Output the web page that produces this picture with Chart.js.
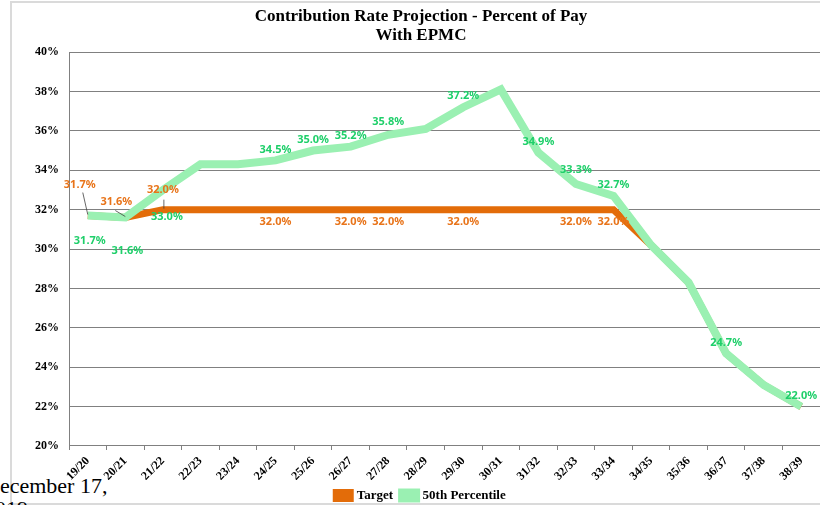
<!DOCTYPE html>
<html>
<head>
<meta charset="utf-8">
<script src="https://cdn.jsdelivr.net/npm/chart.js@4.4.1/dist/chart.umd.min.js"></script>
<style>
  html, body { margin: 0; padding: 0; overflow: hidden; background: #fff; }
  #frame { position: absolute; left: 10px; top: 1px; width: 900px; height: 500px;
           border-top: 2px solid #dadada; border-left: 2px solid #dadada; border-bottom: 2px solid #dadada; }
  #wrap { position: absolute; left: 0; top: 0; width: 842px; height: 512px; }
  #note { position: absolute; left: -16px; top: 474px; font: 22px "Liberation Serif", serif; line-height: 23px; color: #000; }
</style>
</head>
<body>
<div id="frame"></div>
<div id="note">December 17,<br>2019</div>
<div id="wrap"><canvas id="rateChart"></canvas></div>
<script>
// data
const years = ['19/20', '20/21', '21/22', '22/23', '23/24', '24/25', '25/26', '26/27', '27/28', '28/29',
               '29/30', '30/31', '31/32', '32/33', '33/34', '34/35', '35/36', '36/37', '37/38', '38/39'];
const targetRates = [31.7, 31.6, 32.0, 32.0, 32.0, 32.0, 32.0, 32.0, 32.0, 32.0,
                     32.0, 32.0, 32.0, 32.0, 32.0, 30.2, 28.3, 24.7, 23.1, 22.0];
const p50Rates = [31.7, 31.6, 33.0, 34.3, 34.3, 34.5, 35.0, 35.2, 35.8, 36.1,
                  37.2, 38.1, 34.9, 33.3, 32.7, 30.2, 28.3, 24.7, 23.1, 22.0];
const targetLabelIdx = [0, 1, 2, 5, 7, 8, 10, 13, 14];
const p50LabelIdx = [0, 1, 2, 5, 6, 7, 8, 10, 12, 13, 14, 17, 19];
const yTicks = [20, 22, 24, 26, 28, 30, 32, 34, 36, 38, 40];

// label placement (style only)
const labelStyle = {
    0: { color: '#e8741a', dy: 12, special: {
            0: { dx: -8, dy: -31, leader: [-5, -23, 0, -1] },
            1: { dx: -9, dy: -16, leader: [-10, -7, 0, -1] },
            2: { dx: 0, dy: -20, leader: [1, -10, 1, -1] } } },
    1: { color: '#1fcf6a', dy: -11, special: {
            0: { dx: 2, dy: 25 }, 1: { dx: 2, dy: 33 }, 2: { dx: 4, dy: 27 },
            8: { dx: 0, dy: -13 }, 13: { dx: 0, dy: -14 } } }
};

const pointLabels = {
    id: 'pointLabels',
    afterLayout(chart) {
        // title and legend are centred on the full original width, plot stops short of it
        chart.titleBlock.right = chart.width;
        chart.legend.right = chart.width;
    },
    afterDatasetsDraw(chart) {
        const ctx = chart.ctx;
        const shown = [targetLabelIdx, p50LabelIdx];
        ctx.save();
        ctx.font = 'bold 11px "Noto Sans", sans-serif';
        ctx.textAlign = 'center';
        ctx.textBaseline = 'middle';
        chart.data.datasets.forEach((ds, di) => {
            const meta = chart.getDatasetMeta(di);
            const st = labelStyle[di];
            shown[di].forEach(i => {
                const pt = meta.data[i];
                const sp = st.special[i] || { dx: 0, dy: st.dy };
                if (sp.leader) {
                    ctx.strokeStyle = '#404040';
                    ctx.lineWidth = 0.8;
                    ctx.beginPath();
                    ctx.moveTo(pt.x + sp.leader[0], pt.y + sp.leader[1]);
                    ctx.lineTo(pt.x + sp.leader[2], pt.y + sp.leader[3]);
                    ctx.stroke();
                }
                ctx.fillStyle = st.color;
                ctx.fillText(ds.data[i].toFixed(1) + '%', pt.x + sp.dx, pt.y + sp.dy);
            });
        });
        ctx.restore();
    }
};

const serifBold = { family: '"Liberation Serif", "Times New Roman", serif', weight: 'bold' };

const rateChart = new Chart(document.getElementById('rateChart'), {
    type: 'line',
    data: {
        labels: years,
        datasets: [{
            label: 'Target',
            data: targetRates,
            borderColor: '#e36c09',
            backgroundColor: '#e36c09',
            borderWidth: 7,
            order: 1
        }, {
            label: '50th Percentile',
            data: p50Rates,
            borderColor: '#9af0b2',
            backgroundColor: '#9af0b2',
            borderWidth: 8,
            order: 0
        }]
    },
    options: {
        responsive: true,
        maintainAspectRatio: false,
        animation: false,
        elements: { point: { radius: 0, hoverRadius: 0 }, line: { tension: 0, borderCapStyle: 'butt' } },
        layout: { padding: { left: 0, right: 22, top: 0, bottom: 0 } },
        plugins: {
            title: {
                display: true,
                text: ['Contribution Rate Projection - Percent of Pay', 'With EPMC'],
                color: '#000',
                font: { ...serifBold, size: 17, lineHeight: 1.12 },
                padding: { top: 7, bottom: 7 }
            },
            legend: {
                position: 'bottom',
                labels: {
                    color: '#000',
                    font: { ...serifBold, size: 13 },
                    boxWidth: 14,
                    boxHeight: 6,
                    padding: 9,
                    sort: (a, b) => a.datasetIndex - b.datasetIndex
                }
            },
            tooltip: { enabled: false }
        },
        scales: {
            x: {
                offset: true,
                grid: { offset: true, drawOnChartArea: false, color: '#808080', tickLength: 4 },
                border: { color: '#808080' },
                ticks: { color: '#000', font: { ...serifBold, size: 12 }, maxRotation: 45, minRotation: 45, padding: 4 },
                afterFit: s => { s.height = 34; }
            },
            y: {
                min: 20,
                max: 40,
                afterBuildTicks: s => { s.ticks = yTicks.map(v => ({ value: v })); },
                grid: { color: '#808080', tickLength: 0 },
                border: { color: '#808080' },
                ticks: { color: '#000', font: { ...serifBold, size: 12 }, padding: 10, callback: v => v + '%' },
                afterFit: s => { s.width = 69; }
            }
        }
    },
    plugins: [pointLabels]
});
</script>
</body>
</html>
